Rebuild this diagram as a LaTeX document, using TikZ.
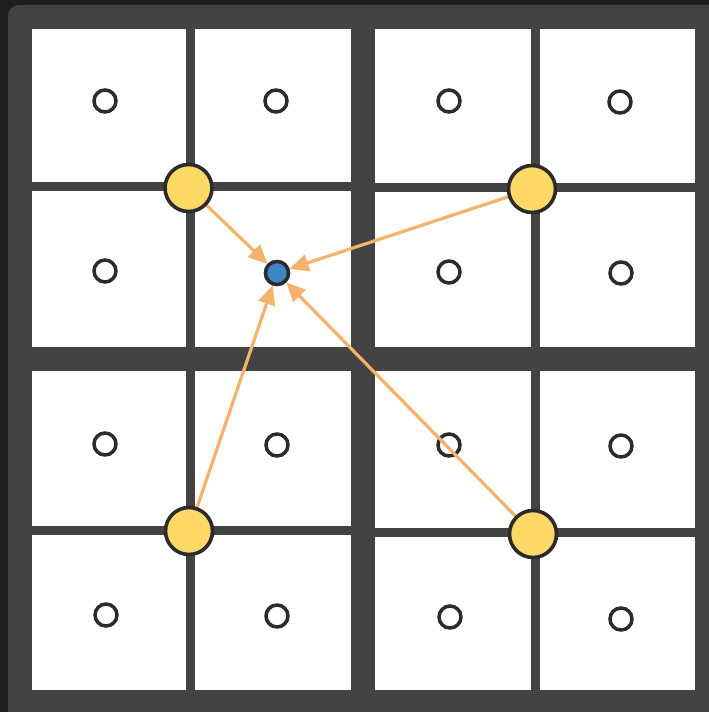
\documentclass[tikz,border=0pt]{standalone}
\usetikzlibrary{arrows.meta}
\definecolor{bgdark}{HTML}{1F1F1F}
\definecolor{panel}{HTML}{434343}
\definecolor{ink}{HTML}{2B2B2B}
\definecolor{gold}{HTML}{FFD966}
\definecolor{bluept}{HTML}{3D85C6}
\definecolor{orng}{HTML}{F6B26B}
\tikzset{
  cell/.style={fill=white,draw=none},
  pix/.style={circle,draw=ink,line width=3.5pt,fill=white,minimum size=22pt,inner sep=0pt},
  corner/.style={circle,draw=ink,line width=3.6pt,fill=gold,minimum size=47pt,inner sep=0pt},
  target/.style={circle,draw=ink,line width=3.4pt,fill=bluept,minimum size=23pt,inner sep=0pt},
  arr/.style={draw=orng,line width=3.2pt,-{Triangle[length=19pt,width=17pt]}}
}
\begin{document}
\begin{tikzpicture}[x=1pt,y=-1pt]
\useasboundingbox (0,0) rectangle (709,712);
\clip (0,0) rectangle (709,712);
\fill[bgdark] (0,0) rectangle (709,712);
\fill[panel,rounded corners=11pt] (8,5) rectangle (740,740);
% cells, left block
\foreach \xa/\xb in {32/186,195/351}{
  \foreach \ya/\yb in {29/182,191/347,371/526,535/690}{
    \fill[cell] (\xa,\ya) rectangle (\xb,\yb);
  }
}
% cells, right block
\foreach \xa/\xb in {375/531,540/695}{
  \foreach \ya/\yb in {29/183,192/347,371/528,537/690}{
    \fill[cell] (\xa,\ya) rectangle (\xb,\yb);
  }
}
% pixel centres
\node[pix] (p11) at (105,101) {};
\node[pix] (p12) at (276,101) {};
\node[pix] (p13) at (449,101) {};
\node[pix] (p14) at (620,102) {};
\node[pix] (p21) at (105,271) {};
\node[pix] (p23) at (449,272) {};
\node[pix] (p24) at (621,273) {};
\node[pix] (p31) at (105,444) {};
\node[pix] (p32) at (277,445) {};
\node[pix] (p33) at (449,445) {};
\node[pix] (p34) at (621,446) {};
\node[pix] (p41) at (106,615) {};
\node[pix] (p42) at (277,616) {};
\node[pix] (p43) at (450,617) {};
\node[pix] (p44) at (621,619) {};
% corner samples and target
\node[target] (b) at (277,273) {};
\draw[arr] (188.5,188) -- (b);
\draw[arr] (532,189) -- (b);
\draw[arr] (189,531) -- (b);
\draw[arr] (533,534) -- (b);
\node[corner] (y1) at (188.5,188) {};
\node[corner] (y2) at (532,189) {};
\node[corner] (y3) at (189,531) {};
\node[corner] (y4) at (533,534) {};
\node[target] at (b) {};
\end{tikzpicture}
\end{document}
